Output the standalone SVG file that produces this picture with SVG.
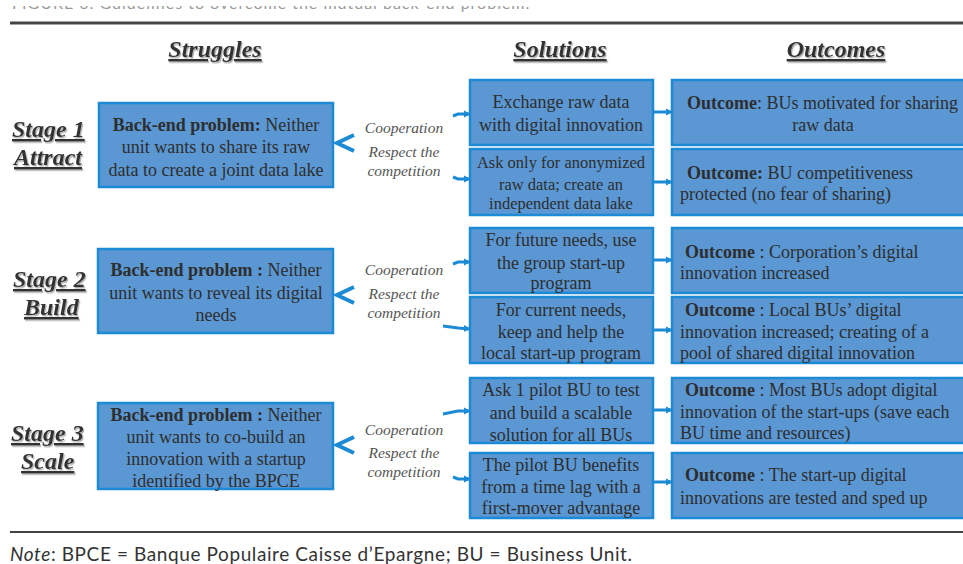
<svg xmlns="http://www.w3.org/2000/svg" width="963" height="564" viewBox="0 0 963 564">
  <style>
    .box { fill: #5a97d3; stroke: #1c8ad4; stroke-width: 2.5; }
    .t { font-family: "Liberation Serif", "Times New Roman", serif; fill: #2e2e2e; font-size: 18px; }
    .t.sm { font-size: 16.5px; }
    .c { text-anchor: middle; }
    .b { font-weight: bold; }
    .head { font-family: "Liberation Serif", "Times New Roman", serif; font-weight: bold; font-style: italic; font-size: 24px; fill: #333; text-decoration: underline; filter: url(#shadow); }
    .lbl { font-family: "Liberation Serif", "Times New Roman", serif; font-style: italic; font-size: 15.5px; fill: #555; text-anchor: middle; }
    .arrow { fill: none; stroke: #1c8ad4; stroke-width: 3; marker-end: url(#ah); }
    .chev { fill: none; stroke: #1c8ad4; stroke-width: 4; stroke-linejoin: miter; }
    .rule { stroke: #444; }
  </style>
  <defs>
    <marker id="ah" viewBox="0 0 8 8" refX="7" refY="4" markerWidth="7" markerHeight="8" markerUnits="userSpaceOnUse" orient="auto">
      <path d="M0,0 L8,4 L0,8 z" fill="#1c8ad4"/>
    </marker>
    <filter id="shadow" x="-10%" y="-20%" width="130%" height="150%">
      <feDropShadow dx="1.2" dy="1.5" stdDeviation="0.6" flood-color="#999" flood-opacity="0.8"/>
    </filter>
    <clipPath id="capclip"><rect x="0" y="6" width="963" height="10"/></clipPath>
  </defs>

  <rect width="963" height="564" fill="#ffffff"/>

  <!-- caption, trimmed at the top edge -->
  <text x="12" y="9" clip-path="url(#capclip)" font-family="Lato, 'Liberation Sans', sans-serif" font-size="16" fill="#999" letter-spacing="1">FIGURE 6. Guidelines to overcome the mutual back-end problem.</text>

  <!-- rules -->
  <line class="rule" x1="10" y1="23" x2="963" y2="23" stroke-width="3"/>
  <line class="rule" x1="10" y1="532" x2="963" y2="532" stroke-width="2"/>

  <!-- column headings -->
  <g id="headings">
    <text class="head c" x="215" y="57">Struggles</text>
    <text class="head c" x="560" y="57">Solutions</text>
    <text class="head c" x="836" y="57">Outcomes</text>
  </g>

  <!-- stage labels -->
  <g id="stage1-label">
    <text class="head" x="12" y="137">Stage 1</text>
    <text class="head" x="14" y="165">Attract</text>
  </g>
  <g id="stage2-label">
    <text class="head" x="13" y="287">Stage 2</text>
    <text class="head" x="24" y="315">Build</text>
  </g>
  <g id="stage3-label">
    <text class="head" x="11" y="441">Stage 3</text>
    <text class="head" x="21" y="469">Scale</text>
  </g>

  <!-- Stage 1 -->
  <g id="struggle1">
    <rect class="box" x="99" y="103" width="234" height="84"/>
    <text class="t c" x="216" y="131"><tspan class="b">Back-end problem:</tspan> Neither</text>
    <text class="t c" x="216" y="153">unit wants to share its raw</text>
    <text class="t c" x="216" y="176">data to create a joint data lake</text>
  </g>
  <g id="labels1">
    <text class="lbl" x="404" y="133">Cooperation</text>
    <text class="lbl" x="404" y="157">Respect the</text>
    <text class="lbl" x="404" y="176">competition</text>
  </g>
  <g id="solution1a">
    <rect class="box" x="470" y="80" width="183" height="65"/>
    <text class="t c" x="561" y="108">Exchange raw data</text>
    <text class="t c" x="561" y="131">with digital innovation</text>
  </g>
  <g id="solution1b">
    <rect class="box" x="470" y="149" width="183" height="66"/>
    <text class="t sm c" x="561" y="168">Ask only for anonymized</text>
    <text class="t sm c" x="561" y="190">raw data; create an</text>
    <text class="t sm c" x="561" y="209">independent data lake</text>
  </g>
  <g id="outcome1a">
    <rect class="box" x="672" y="80" width="304" height="65"/>
    <text class="t" x="687" y="109"><tspan class="b">Outcome</tspan>: BUs motivated for sharing</text>
    <text class="t c" x="823" y="131">raw data</text>
  </g>
  <g id="outcome1b">
    <rect class="box" x="672" y="149" width="304" height="66"/>
    <text class="t" x="687" y="179"><tspan class="b">Outcome:</tspan> BU competitiveness</text>
    <text class="t" x="680" y="200">protected (no fear of sharing)</text>
  </g>

  <!-- Stage 2 -->
  <g id="struggle2">
    <rect class="box" x="98" y="249" width="235" height="84"/>
    <text class="t c" x="216" y="276"><tspan class="b">Back-end problem :</tspan> Neither</text>
    <text class="t c" x="216" y="299">unit wants to reveal its digital</text>
    <text class="t c" x="216" y="321">needs</text>
  </g>
  <g id="labels2">
    <text class="lbl" x="404" y="275">Cooperation</text>
    <text class="lbl" x="404" y="299">Respect the</text>
    <text class="lbl" x="404" y="318">competition</text>
  </g>
  <g id="solution2a">
    <rect class="box" x="470" y="228" width="183" height="65"/>
    <text class="t c" x="561" y="246">For future needs, use</text>
    <text class="t c" x="561" y="269">the group start-up</text>
    <text class="t c" x="561" y="289">program</text>
  </g>
  <g id="solution2b">
    <rect class="box" x="470" y="297" width="183" height="66"/>
    <text class="t c" x="561" y="316">For current needs,</text>
    <text class="t c" x="561" y="338">keep and help the</text>
    <text class="t c" x="561" y="359">local start-up program</text>
  </g>
  <g id="outcome2a">
    <rect class="box" x="672" y="228" width="304" height="65"/>
    <text class="t" x="685" y="258"><tspan class="b">Outcome</tspan> : Corporation’s digital</text>
    <text class="t" x="680" y="279">innovation increased</text>
  </g>
  <g id="outcome2b">
    <rect class="box" x="672" y="297" width="304" height="66"/>
    <text class="t" x="685" y="316"><tspan class="b">Outcome</tspan> : Local BUs’ digital</text>
    <text class="t" x="680" y="338">innovation increased; creating of a</text>
    <text class="t" x="680" y="359">pool of shared digital innovation</text>
  </g>

  <!-- Stage 3 -->
  <g id="struggle3">
    <rect class="box" x="98" y="403" width="235" height="86"/>
    <text class="t c" x="216" y="421"><tspan class="b">Back-end problem :</tspan> Neither</text>
    <text class="t c" x="216" y="443">unit wants to co-build an</text>
    <text class="t c" x="216" y="465">innovation with a startup</text>
    <text class="t c" x="216" y="487">identified by the BPCE</text>
  </g>
  <g id="labels3">
    <text class="lbl" x="404" y="435">Cooperation</text>
    <text class="lbl" x="404" y="458">Respect the</text>
    <text class="lbl" x="404" y="477">competition</text>
  </g>
  <g id="solution3a">
    <rect class="box" x="470" y="378" width="183" height="65"/>
    <text class="t c" x="561" y="396">Ask 1 pilot BU to test</text>
    <text class="t c" x="561" y="419">and build a scalable</text>
    <text class="t c" x="561" y="441">solution for all BUs</text>
  </g>
  <g id="solution3b">
    <rect class="box" x="470" y="453" width="183" height="65"/>
    <text class="t c" x="561" y="471">The pilot BU benefits</text>
    <text class="t c" x="561" y="493">from a time lag with a</text>
    <text class="t c" x="561" y="514">first-mover advantage</text>
  </g>
  <g id="outcome3a">
    <rect class="box" x="672" y="378" width="304" height="65"/>
    <text class="t" x="685" y="396"><tspan class="b">Outcome</tspan> : Most BUs adopt digital</text>
    <text class="t" x="680" y="418">innovation of the start-ups (save each</text>
    <text class="t" x="680" y="439">BU time and resources)</text>
  </g>
  <g id="outcome3b">
    <rect class="box" x="672" y="453" width="304" height="65"/>
    <text class="t" x="685" y="481"><tspan class="b">Outcome</tspan> : The start-up digital</text>
    <text class="t" x="680" y="504">innovations are tested and sped up</text>
  </g>

  <!-- connectors -->
  <g id="connectors">
    <!-- chevrons pointing back at the struggles -->
    <polyline class="chev" points="354,135 337,143 354,151"/>
    <polyline class="chev" points="354,287 337,295 354,303"/>
    <polyline class="chev" points="354,437 337,445 354,453"/>
    <!-- into the solutions -->
    <path class="arrow" d="M453,116 L458,114 L470,114"/>
    <path class="arrow" d="M453,177 L458,179 L470,179"/>
    <path class="arrow" d="M453,264 L458,262 L470,262"/>
    <path class="arrow" d="M443,326 L458,328 L470,329"/>
    <path class="arrow" d="M443,414 L458,411 L470,411"/>
    <path class="arrow" d="M453,477 L458,479 L470,479"/>
    <!-- solutions to outcomes -->
    <path class="arrow" d="M653,112 L672,112"/>
    <path class="arrow" d="M653,182 L672,182"/>
    <path class="arrow" d="M653,260 L672,260"/>
    <path class="arrow" d="M653,330 L672,330"/>
    <path class="arrow" d="M653,410 L672,410"/>
    <path class="arrow" d="M653,482 L672,482"/>
  </g>

  <!-- footnote -->
  <text x="10" y="561" font-family="Lato, 'Liberation Sans', sans-serif" font-size="19" fill="#333" textLength="622"><tspan font-style="italic">Note</tspan>: BPCE = Banque Populaire Caisse d’Epargne; BU = Business Unit.</text>
</svg>
